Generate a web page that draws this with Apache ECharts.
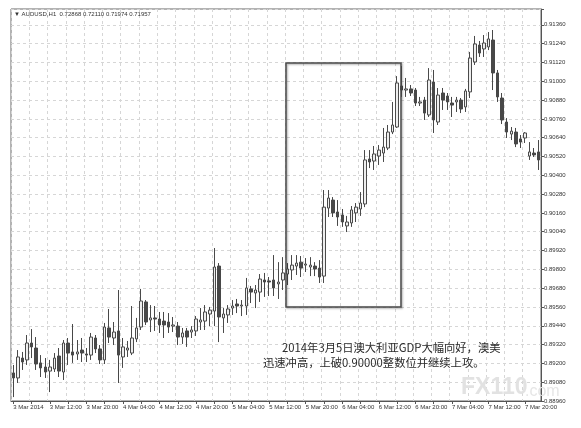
<!DOCTYPE html>
<html><head><meta charset="utf-8">
<script src="https://cdn.jsdelivr.net/npm/echarts@6/dist/echarts.min.js"></script>
<style>html,body{margin:0;padding:0;background:#fff}#c{width:581px;height:428px}</style>
</head><body><div id="c"></div><script>
const tickLabels = ['3 Mar 2014','3 Mar 12:00','3 Mar 20:00','4 Mar 04:00','4 Mar 12:00','4 Mar 20:00','5 Mar 04:00','5 Mar 12:00','5 Mar 20:00','6 Mar 04:00','6 Mar 12:00','6 Mar 20:00','7 Mar 04:00','7 Mar 12:00','7 Mar 20:00'];
const opens = [0.89139,0.89107,0.89234,0.89222,0.89330,0.89298,0.89203,0.89177,0.89151,0.89164,0.89247,0.89145,0.89330,0.89273,0.89260,0.89285,0.89260,0.89253,0.89362,0.89292,0.89222,0.89426,0.89362,0.89407,0.89241,0.89285,0.89266,0.89356,0.89432,0.89592,0.89477,0.89490,0.89483,0.89470,0.89464,0.89438,0.89438,0.89368,0.89407,0.89400,0.89407,0.89464,0.89470,0.89515,0.89534,0.89821,0.89490,0.89509,0.89553,0.89579,0.89566,0.89566,0.89675,0.89649,0.89655,0.89732,0.89726,0.89732,0.89707,0.89732,0.89770,0.89796,0.89821,0.89846,0.89827,0.89815,0.89821,0.89808,0.89757,0.90191,0.90242,0.90166,0.90147,0.90077,0.90096,0.90160,0.90185,0.90217,0.90504,0.90491,0.90523,0.90542,0.90574,0.90676,0.90708,0.90970,0.90944,0.90951,0.90944,0.90861,0.90880,0.90785,0.90995,0.90740,0.90925,0.90906,0.90861,0.90868,0.90880,0.90836,0.90932,0.91123,0.91231,0.91206,0.91219,0.91263,0.91053,0.90893,0.90740,0.90663,0.90676,0.90632,0.90638,0.90523,0.90542,0.90549];
const closes = [0.89107,0.89241,0.89209,0.89330,0.89305,0.89196,0.89171,0.89145,0.89177,0.89234,0.89151,0.89330,0.89266,0.89253,0.89273,0.89266,0.89253,0.89368,0.89292,0.89222,0.89432,0.89368,0.89400,0.89253,0.89305,0.89298,0.89362,0.89426,0.89598,0.89464,0.89490,0.89483,0.89445,0.89445,0.89432,0.89445,0.89368,0.89394,0.89368,0.89413,0.89483,0.89477,0.89528,0.89540,0.89815,0.89496,0.89515,0.89547,0.89566,0.89566,0.89572,0.89681,0.89655,0.89668,0.89738,0.89719,0.89719,0.89681,0.89719,0.89777,0.89802,0.89827,0.89840,0.89808,0.89834,0.89827,0.89802,0.89751,0.90197,0.90255,0.90160,0.90134,0.90102,0.90102,0.90179,0.90197,0.90223,0.90498,0.90485,0.90536,0.90561,0.90580,0.90676,0.90721,0.90989,0.90944,0.90951,0.90925,0.90861,0.90868,0.90797,0.91008,0.90753,0.90912,0.90880,0.90868,0.90848,0.90880,0.90823,0.90938,0.91148,0.91238,0.91180,0.91244,0.91270,0.91053,0.90900,0.90753,0.90676,0.90682,0.90600,0.90612,0.90670,0.90549,0.90530,0.90498];
const lows = [0.88985,0.89075,0.89158,0.89190,0.89234,0.89158,0.89113,0.89107,0.89017,0.89145,0.89113,0.89094,0.89190,0.89203,0.89222,0.89209,0.89209,0.89222,0.89266,0.89196,0.89196,0.89330,0.89317,0.89075,0.89171,0.89241,0.89253,0.89336,0.89413,0.89445,0.89400,0.89407,0.89394,0.89362,0.89394,0.89400,0.89317,0.89324,0.89305,0.89362,0.89375,0.89413,0.89413,0.89438,0.89438,0.89336,0.89394,0.89458,0.89509,0.89521,0.89502,0.89509,0.89585,0.89553,0.89592,0.89624,0.89630,0.89630,0.89611,0.89668,0.89700,0.89732,0.89764,0.89751,0.89783,0.89757,0.89757,0.89713,0.89713,0.90134,0.90134,0.90077,0.90071,0.90038,0.90071,0.90102,0.90141,0.90197,0.90446,0.90434,0.90466,0.90485,0.90561,0.90663,0.90702,0.90900,0.90900,0.90906,0.90842,0.90842,0.90753,0.90772,0.90670,0.90721,0.90817,0.90817,0.90772,0.90804,0.90797,0.90804,0.90893,0.91104,0.91155,0.91155,0.91199,0.90944,0.90868,0.90727,0.90638,0.90625,0.90580,0.90574,0.90606,0.90498,0.90517,0.90434];
const highs = [0.89190,0.89285,0.89273,0.89381,0.89419,0.89368,0.89253,0.89234,0.89222,0.89266,0.89298,0.89349,0.89362,0.89451,0.89349,0.89362,0.89298,0.89394,0.89381,0.89317,0.89458,0.89547,0.89464,0.89668,0.89362,0.89343,0.89566,0.89490,0.89675,0.89604,0.89572,0.89566,0.89528,0.89528,0.89521,0.89496,0.89464,0.89426,0.89426,0.89438,0.89502,0.89553,0.89572,0.89560,0.89936,0.89840,0.89553,0.89572,0.89604,0.89611,0.89604,0.89745,0.89694,0.89700,0.89770,0.89777,0.89751,0.89891,0.89846,0.89878,0.89840,0.89891,0.89891,0.89885,0.89872,0.89878,0.89846,0.89859,0.90306,0.90306,0.90261,0.90242,0.90185,0.90141,0.90204,0.90223,0.90293,0.90561,0.90561,0.90587,0.90593,0.90702,0.90721,0.90868,0.91033,0.91097,0.91021,0.90976,0.90957,0.90900,0.90900,0.91084,0.91072,0.90957,0.90957,0.90925,0.90900,0.90900,0.90893,0.90951,0.91187,0.91289,0.91257,0.91295,0.91314,0.91327,0.91072,0.90925,0.90765,0.90708,0.90702,0.90657,0.90676,0.90612,0.90574,0.90625];
const headerText = '\u25BC AUDUSD,H1  0.72868 0.72110 0.71974 0.71957';
const noteLine1 = '2014年3月5日澳大利亚GDP大幅向好，澳美';
const noteLine2 = '迅速冲高，上破0.90000整数位并继续上攻。';
const watermark = 'FX110';
const watermark2 = '.com';

const Y_MIN = 0.8896, Y_MAX = 0.91461, Y_STEP = 0.0012;
const categories = opens.map((_, i) => String(i));
const candles = opens.map((o, i) => [o, closes[i], lows[i], highs[i]]);
const FONT = "'Liberation Sans', Arial, sans-serif";
const CJK = "'Noto Sans CJK SC', sans-serif";

const chart = echarts.init(document.getElementById('c'), null, {renderer: 'canvas'});
chart.setOption({
  animation: false,
  backgroundColor: '#ffffff',
  grid: {left: 11, right: 40, top: 9, bottom: 27, show: true, borderColor: '#666', borderWidth: 1},
  xAxis: {
    type: 'category', data: categories, boundaryGap: true,
    axisLine: {lineStyle: {color: '#555'}},
    axisTick: {show: true, interval: 3, alignWithLabel: true, length: 3, lineStyle: {color: '#555'}},
    axisLabel: {interval: 7, align: 'left', margin: 3, fontSize: 6, color: '#333', fontFamily: FONT,
      formatter: (v, i) => (i % 8 === 0 && tickLabels[i / 8]) ? tickLabels[i / 8] : ''},
    splitLine: {show: true, interval: 3, lineStyle: {type: [3, 3], color: '#d6d6d6', width: 1}}
  },
  yAxis: {
    type: 'value', position: 'right', min: Y_MIN, max: Y_MAX, interval: Y_STEP, scale: true,
    axisLine: {show: true, lineStyle: {color: '#555'}},
    axisTick: {show: true, length: 3, lineStyle: {color: '#555'}},
    axisLabel: {margin: 3, fontSize: 6, color: '#333', fontFamily: FONT,
      formatter: (v) => { const k = (v - Y_MIN) / Y_STEP; return Math.abs(k - Math.round(k)) < 1e-3 ? v.toFixed(5) : ''; }},
    splitLine: {show: true, lineStyle: {type: [3, 3], color: '#d6d6d6', width: 1}}
  },
  series: [{
    type: 'candlestick', data: candles, barWidth: 3, clip: false, z: 3,
    itemStyle: {color: '#eeeeee', color0: '#484848', borderColor: '#4a4a4a', borderColor0: '#484848', borderWidth: 1}
  }],
  graphic: [
    {type: 'text', left: 14, top: 11, z: 10, style: {text: headerText, fill: '#333', font: '6px ' + FONT}},
    {type: 'text', left: 461, top: 376, z: 1, style: {text: watermark, fill: '#e2e2e2', font: 'bold 23px ' + FONT}},
    {type: 'text', left: 525, top: 384, z: 1, style: {text: watermark2, fill: '#e6e6e6', font: '16px ' + FONT}},
    {type: 'rect', z: 5, shape: {x: 286, y: 63, width: 115, height: 244},
      style: {fill: 'none', stroke: '#4a4a4a', lineWidth: 1.5, shadowBlur: 2, shadowColor: 'rgba(0,0,0,0.35)', shadowOffsetX: 1, shadowOffsetY: 1}},
    {type: 'text', left: 282, top: 342, z: 10, style: {text: noteLine1, fill: '#2a2a2a', font: '11.3px ' + CJK}},
    {type: 'text', left: 263, top: 357, z: 10, style: {text: noteLine2, fill: '#2a2a2a', font: '11.3px ' + CJK}}
  ]
});
</script></body></html>
